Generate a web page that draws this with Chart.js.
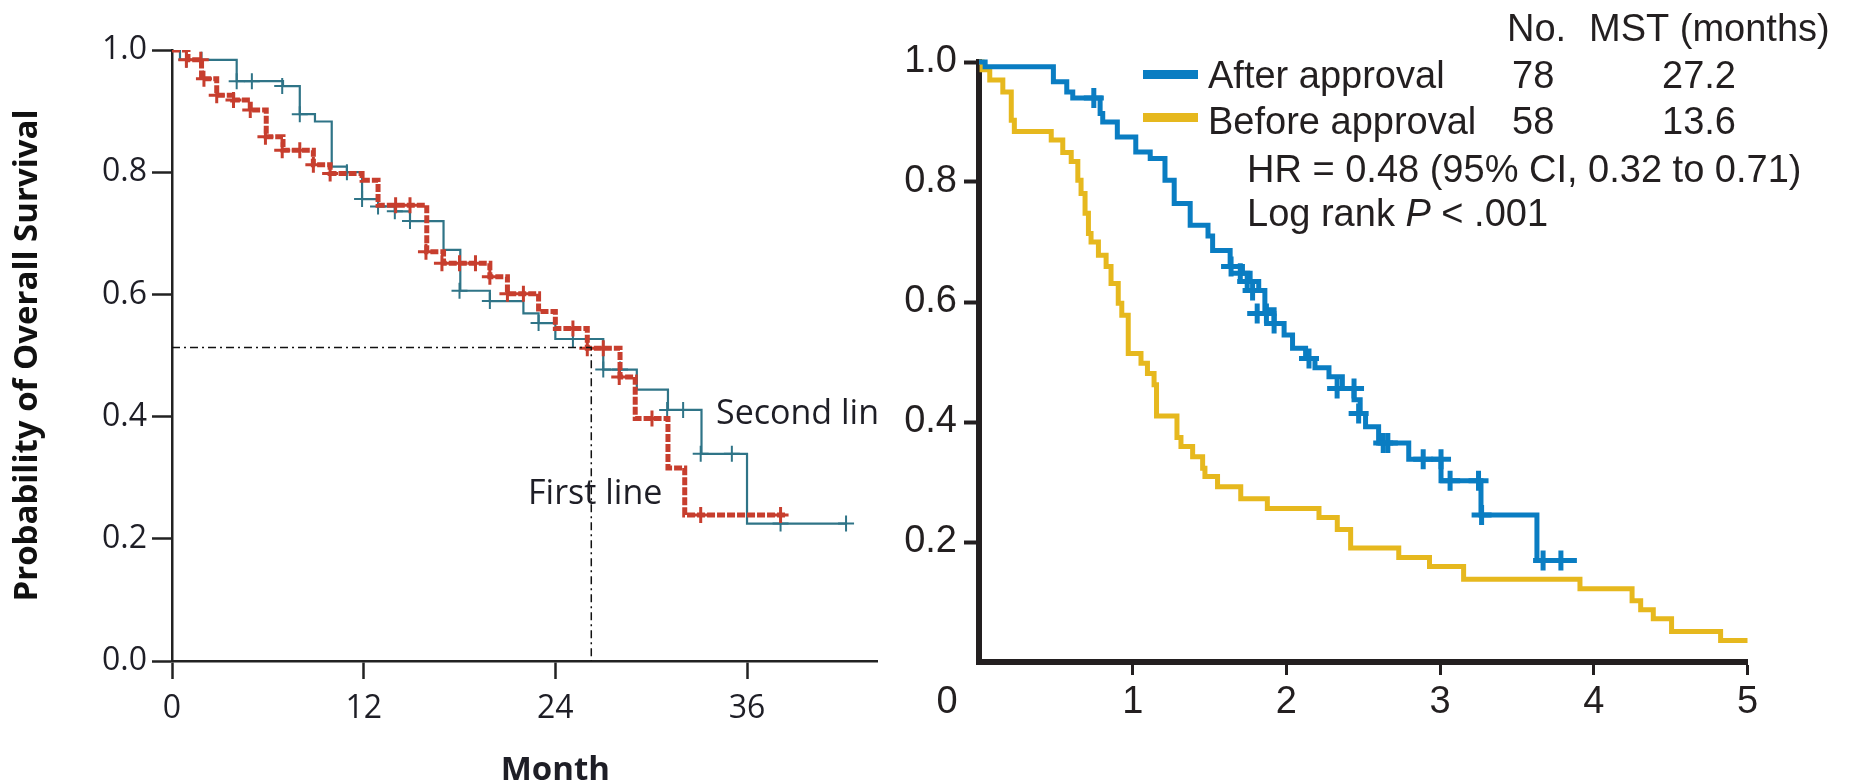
<!DOCTYPE html>
<html>
<head>
<meta charset="utf-8">
<title>Overall survival</title>
<script src="https://cdn.jsdelivr.net/npm/chart.js@4.4.1/dist/chart.umd.min.js"></script>
<style>
  html, body { margin: 0; padding: 0; background: #fff; }
  body { width: 1854px; height: 784px; position: relative; overflow: hidden; }
  #lineBox { position: absolute; left: 0; top: 0; }
  #approvalBox { position: absolute; left: 900px; top: 0; }
</style>
</head>
<body>
<div id="lineBox"><canvas id="lineChart" width="878" height="784"></canvas></div>
<div id="approvalBox"><canvas id="approvalChart" width="954" height="784"></canvas></div>

<script>
// ---- left panel: survival by line of therapy, months ----
const monthTicks = [0, 12, 24, 36];
const survTicksLeft = [0, 0.2, 0.4, 0.6, 0.8, 1.0];

// [month, survival after the drop]
const firstLineSteps = [
  [0, 1.0], [1.0, 0.984], [1.85, 0.953], [2.8, 0.926], [3.8, 0.918], [4.9, 0.902],
  [5.9, 0.858], [6.95, 0.836], [8.85, 0.812], [9.9, 0.798], [11.9, 0.787], [12.9, 0.746],
  [15.95, 0.670], [17.0, 0.651], [19.9, 0.629], [21.0, 0.601], [22.95, 0.572], [24.0, 0.544],
  [26.0, 0.512], [28.05, 0.465], [29.0, 0.397], [31.05, 0.316], [32.1, 0.239], [38.4, 0.239]
];
const firstLineCensored = [
  [0.9, 0.984], [1.8, 0.984], [2.0, 0.953], [2.8, 0.926], [3.85, 0.918], [4.9, 0.902],
  [5.85, 0.858], [6.9, 0.836], [8.0, 0.836], [8.85, 0.812], [9.9, 0.798], [14.0, 0.746],
  [14.9, 0.746], [15.9, 0.670], [16.9, 0.651], [18.0, 0.651], [19.0, 0.651], [19.9, 0.629],
  [21.0, 0.601], [22.0, 0.601], [25.1, 0.544], [26.0, 0.512], [27.0, 0.512], [28.0, 0.465],
  [30.05, 0.397], [33.1, 0.239], [38.1, 0.239]
];
const secondLineSteps = [
  [0, 1.0], [0.5, 0.984], [4.05, 0.949], [6.95, 0.941], [8.0, 0.895], [8.95, 0.883],
  [10.0, 0.809], [10.95, 0.80], [11.9, 0.756], [12.9, 0.744], [13.95, 0.736], [14.9, 0.720],
  [17.0, 0.673], [18.05, 0.606], [19.9, 0.589], [22.0, 0.569], [22.95, 0.553], [24.0, 0.527],
  [27.0, 0.477], [29.1, 0.444], [31.05, 0.411], [33.15, 0.339], [36.0, 0.225], [42.2, 0.225]
];
const secondLineCensored = [
  [0.9, 0.984], [1.85, 0.984], [4.05, 0.949], [5.0, 0.949], [6.9, 0.941], [8.0, 0.895],
  [10.95, 0.80], [11.9, 0.756], [12.9, 0.744], [13.95, 0.736], [14.9, 0.720], [18.0, 0.606],
  [19.9, 0.589], [22.95, 0.553], [25.1, 0.527], [27.0, 0.477], [28.05, 0.477], [31.0, 0.411],
  [32.0, 0.411], [33.1, 0.339], [35.05, 0.339], [38.1, 0.225], [42.2, 0.225]
];
const medianMonth = 26.25;
const medianSurv = 0.513;

// ---- right panel: before / after approval, years ----
const yearTicks = [1, 2, 3, 4, 5];
const survTicksRight = [0.2, 0.4, 0.6, 0.8, 1.0];

const afterApprovalSteps = [
  [0, 1.0], [0.04, 0.992], [0.484, 0.967], [0.571, 0.950], [0.61, 0.940], [0.788, 0.914],
  [0.805, 0.900], [0.90, 0.875], [1.02, 0.850], [1.114, 0.839], [1.21, 0.803], [1.27, 0.764],
  [1.374, 0.728], [1.49, 0.710], [1.52, 0.686], [1.634, 0.659], [1.714, 0.648], [1.764, 0.634],
  [1.82, 0.619], [1.86, 0.587], [1.92, 0.564], [1.985, 0.545], [2.04, 0.523], [2.125, 0.506],
  [2.186, 0.4905], [2.277, 0.4755], [2.364, 0.456], [2.44, 0.437], [2.48, 0.414], [2.515, 0.392],
  [2.60, 0.365], [2.796, 0.338], [3.006, 0.302], [3.266, 0.245], [3.63, 0.169], [3.89, 0.169]
];
const afterApprovalCensored = [
  [0.747, 0.940], [1.64, 0.659], [1.70, 0.648], [1.745, 0.634], [1.78, 0.619], [1.81, 0.581],
  [1.87, 0.581], [1.92, 0.564], [2.147, 0.506], [2.33, 0.456], [2.44, 0.456], [2.47, 0.414],
  [2.63, 0.365], [2.66, 0.365], [2.89, 0.338], [3.006, 0.338], [3.065, 0.302], [3.25, 0.302],
  [3.27, 0.245], [3.67, 0.169], [3.786, 0.169]
];
const beforeApprovalSteps = [
  [0, 1.0], [0.02, 0.987], [0.07, 0.970], [0.155, 0.950], [0.21, 0.903], [0.23, 0.884],
  [0.47, 0.870], [0.545, 0.849], [0.60, 0.834], [0.643, 0.803], [0.664, 0.781], [0.69, 0.748],
  [0.712, 0.714], [0.729, 0.700], [0.777, 0.678], [0.827, 0.659], [0.859, 0.631], [0.906, 0.598],
  [0.929, 0.578], [0.971, 0.514], [1.054, 0.498], [1.096, 0.481], [1.139, 0.462], [1.155, 0.410],
  [1.288, 0.374], [1.314, 0.359], [1.39, 0.342], [1.455, 0.323], [1.47, 0.309], [1.552, 0.292],
  [1.703, 0.272], [1.876, 0.256], [2.212, 0.241], [2.331, 0.221], [2.418, 0.190], [2.731, 0.174],
  [2.931, 0.159], [3.153, 0.138], [3.91, 0.122], [4.249, 0.102], [4.305, 0.087], [4.387, 0.072],
  [4.506, 0.051], [4.825, 0.036], [5.0, 0.036]
];

const groupNames = ['After approval', 'Before approval'];
const groupN = [78, 58];
const groupMST = [27.2, 13.6];
const hrText = 'HR = 0.48 (95% CI, 0.32 to 0.71)';
const logRankParts = [['Log rank ', false], ['P', true], [' < .001', false]];

const RED = '#c73e2e';
const TEAL = '#2f7487';
const BLUE = '#0a7dc2';
const GOLD = '#e6b81e';
const INK = '#231f20';

const toXY = arr => arr.map(([x, y]) => ({ x, y }));
const fixedTicks = values => scale => { scale.ticks = values.map(v => ({ value: v })); };
// fixed box size, no extra room reserved for overhanging labels
const fixedHeight = h => s => { s.height = h; s.paddingLeft = 0; s.paddingRight = 0; };
const fixedWidth = w => s => { s.width = w; s.paddingTop = 0; s.paddingBottom = 0; };

// text drawn over the left chart, anchored to the data scales
const lineNotes = {
  id: 'lineNotes',
  afterDraw(chart) {
    const { ctx, scales: { x, y } } = chart;
    ctx.save();
    ctx.fillStyle = '#1e1e26';
    ctx.textBaseline = 'middle';
    ctx.textAlign = 'left';
    ctx.font = '34px "Open Sans"';
    ctx.fillText('Second line', x.getPixelForValue(34.06), y.getPixelForValue(0.404));
    ctx.fillText('First line', x.getPixelForValue(22.29), y.getPixelForValue(0.272));
    ctx.font = 'bold 33px "Open Sans"';
    ctx.textAlign = 'center';
    ctx.fillText('Month', x.getPixelForValue(24), chart.height - 13);
    ctx.restore();
  }
};

new Chart(document.getElementById('lineChart'), {
  type: 'line',
  data: {
    datasets: [
      {
        label: 'median',
        data: [{ x: 0, y: medianSurv }, { x: medianMonth, y: medianSurv }, { x: medianMonth, y: 0 }],
        borderColor: '#111',
        borderWidth: 1.5,
        borderDash: [8, 4, 2, 4],
        pointRadius: 0,
        order: 0
      },
      {
        label: 'First line',
        data: toXY(firstLineSteps),
        stepped: true,
        borderColor: RED,
        borderWidth: 5,
        borderDash: [8, 2],
        borderJoinStyle: 'miter',
        pointRadius: 0,
        order: 1
      },
      {
        label: 'First line censored',
        data: toXY(firstLineCensored),
        showLine: false,
        pointStyle: 'cross',
        pointRadius: 8,
        pointBorderWidth: 3,
        pointBorderColor: RED,
        clip: false,
        order: 2
      },
      {
        label: 'Second line',
        data: toXY(secondLineSteps),
        stepped: true,
        borderColor: TEAL,
        borderWidth: 2.2,
        pointRadius: 0,
        order: 3
      },
      {
        label: 'Second line censored',
        data: toXY(secondLineCensored),
        showLine: false,
        pointStyle: 'cross',
        pointRadius: 8,
        pointBorderWidth: 2,
        pointBorderColor: TEAL,
        clip: false,
        order: 4
      }
    ]
  },
  options: {
    responsive: false,
    animation: false,
    devicePixelRatio: 1,
    layout: { autoPadding: false, padding: { top: 50, left: 0, right: 0, bottom: 0 } },
    plugins: { legend: { display: false }, tooltip: { enabled: false } },
    scales: {
      x: {
        type: 'linear',
        min: 0,
        max: 44.2,
        afterBuildTicks: fixedTicks(monthTicks),
        afterFit: fixedHeight(123),
        grid: { drawOnChartArea: false, tickLength: 18, tickWidth: 2.5, tickColor: '#222' },
        border: { display: true, color: '#222', width: 2.5 },
        ticks: {
          padding: 14,
          color: '#1e1e26',
          maxRotation: 0,
          autoSkip: false,
          font: { family: 'Open Sans', size: 32, lineHeight: 1 },
          callback: v => String(v)
        }
      },
      y: {
        min: 0,
        max: 1,
        afterBuildTicks: fixedTicks(survTicksLeft),
        afterFit: fixedWidth(172),
        grid: { drawOnChartArea: false, tickLength: 20, tickWidth: 2.5, tickColor: '#222' },
        border: { display: true, color: '#222', width: 2.5 },
        ticks: {
          padding: 5,
          color: '#1e1e26',
          font: { family: 'Open Sans', size: 32 },
          callback: v => v.toFixed(1)
        },
        title: {
          display: true,
          text: 'Probability of Overall Survival',
          color: '#111',
          font: { family: 'Open Sans', size: 33, weight: 'bold', lineHeight: 1.2 },
          padding: { top: 8, bottom: 0 }
        }
      }
    }
  },
  plugins: [lineNotes]
});

// legend table, statistics and the shared origin label on the right chart
const approvalLegend = {
  id: 'approvalLegend',
  afterDraw(chart) {
    const { ctx, chartArea } = chart;
    const colors = [BLUE, GOLD];
    const lineY = [74.5, 117.5];
    const textY = [77.5, 123.7];
    ctx.save();
    ctx.fillStyle = INK;
    ctx.textBaseline = 'middle';
    ctx.font = '38px "Liberation Sans", Arial, sans-serif';
    ctx.textAlign = 'left';
    ctx.fillText('No.', 607, 31);
    ctx.fillText('MST (months)', 689, 31);
    groupNames.forEach((name, i) => {
      ctx.strokeStyle = colors[i];
      ctx.lineWidth = 9;
      ctx.beginPath();
      ctx.moveTo(243, lineY[i]);
      ctx.lineTo(298, lineY[i]);
      ctx.stroke();
      ctx.textAlign = 'left';
      ctx.fillText(name, 308, textY[i]);
      ctx.fillText(String(groupN[i]), 612, textY[i]);
      ctx.textAlign = 'center';
      ctx.fillText(groupMST[i].toFixed(1), 799, textY[i]);
    });
    ctx.textAlign = 'left';
    ctx.fillText(hrText, 347, 172);
    let x = 347;
    logRankParts.forEach(([txt, italic]) => {
      ctx.font = (italic ? 'italic ' : '') + '38px "Liberation Sans", Arial, sans-serif';
      ctx.fillText(txt, x, 215.5);
      x += ctx.measureText(txt).width;
    });
    ctx.font = '38px "Liberation Sans", Arial, sans-serif';
    ctx.textAlign = 'center';
    ctx.fillText('0', chartArea.left - 32, 703);
    ctx.restore();
  }
};

new Chart(document.getElementById('approvalChart'), {
  type: 'line',
  data: {
    datasets: [
      {
        label: 'After approval censored',
        data: toXY(afterApprovalCensored),
        showLine: false,
        pointStyle: 'cross',
        pointRadius: 10,
        pointBorderWidth: 5,
        pointBorderColor: BLUE,
        clip: false,
        order: 0
      },
      {
        label: 'After approval',
        data: toXY(afterApprovalSteps),
        stepped: true,
        borderColor: BLUE,
        borderWidth: 5,
        borderJoinStyle: 'miter',
        pointRadius: 0,
        clip: false,
        order: 1
      },
      {
        label: 'Before approval',
        data: toXY(beforeApprovalSteps),
        stepped: true,
        borderColor: GOLD,
        borderWidth: 5,
        borderJoinStyle: 'miter',
        pointRadius: 0,
        clip: false,
        order: 2
      }
    ]
  },
  options: {
    responsive: false,
    animation: false,
    devicePixelRatio: 1,
    layout: { autoPadding: false, padding: { top: 62, left: 0, right: 106.5, bottom: 0 } },
    plugins: { legend: { display: false }, tooltip: { enabled: false } },
    scales: {
      x: {
        type: 'linear',
        min: 0,
        max: 5,
        afterBuildTicks: fixedTicks(yearTicks),
        afterFit: fixedHeight(122),
        grid: { drawOnChartArea: false, tickLength: 13, tickWidth: 3, tickColor: INK },
        border: { display: true, color: INK, width: 6 },
        ticks: {
          padding: 9,
          color: INK,
          maxRotation: 0,
          autoSkip: false,
          font: { family: 'Liberation Sans', size: 38, lineHeight: 1 },
          callback: v => String(v)
        }
      },
      y: {
        min: 0,
        max: 1,
        afterBuildTicks: fixedTicks(survTicksRight),
        afterFit: fixedWidth(79),
        grid: { drawOnChartArea: false, tickLength: 15, tickWidth: 4, tickColor: INK },
        border: { display: true, color: INK, width: 6 },
        ticks: {
          padding: 7,
          color: INK,
          font: { family: 'Liberation Sans', size: 38 },
          callback: v => v.toFixed(1)
        }
      }
    }
  },
  plugins: [approvalLegend]
});
</script>
</body>
</html>
